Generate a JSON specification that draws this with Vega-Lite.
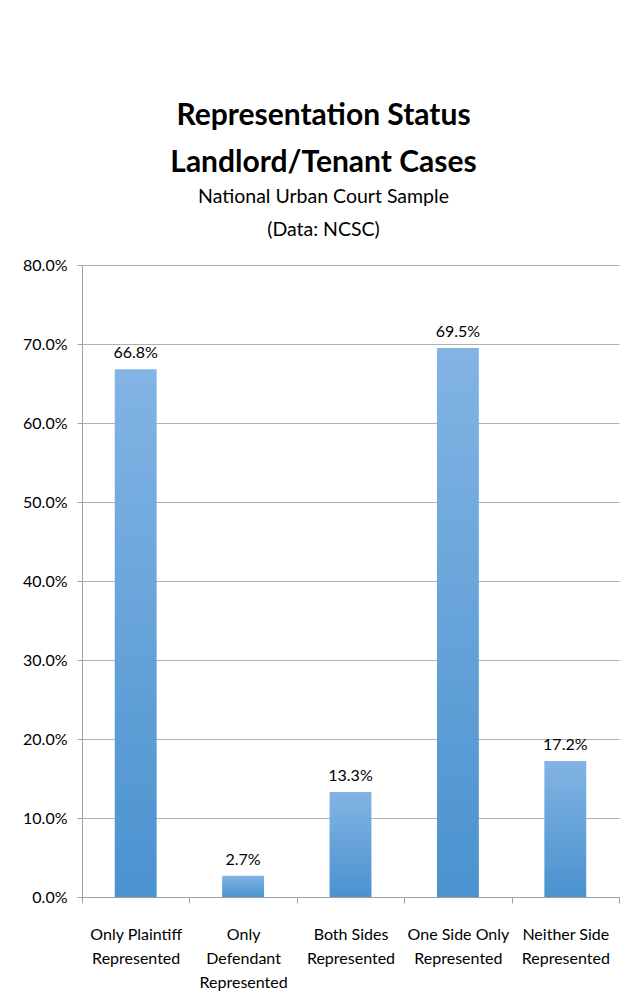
{
  "$schema": "https://vega.github.io/schema/vega-lite/v6.json",
  "autosize": "none",
  "width": 537,
  "height": 632,
  "padding": {"left": 82, "top": 265, "right": 21, "bottom": 100},
  "background": "white",
  "title": {
    "text": ["Representation Status", "Landlord/Tenant Cases"],
    "subtitle": ["National Urban Court Sample", "(Data: NCSC)"],
    "anchor": "middle",
    "dx": -27,
    "offset": 18,
    "font": "Lato",
    "fontSize": 30,
    "fontWeight": "bold",
    "color": "black",
    "lineHeight": 47,
    "subtitleFont": "Lato",
    "subtitleFontSize": 19.5,
    "subtitleColor": "black",
    "subtitleLineHeight": 33,
    "subtitlePadding": 10
  },
  "data": {
    "values": [
      {"category": "Only Plaintiff|Represented", "value": 0.668},
      {"category": "Only|Defendant|Represented", "value": 0.027},
      {"category": "Both Sides|Represented", "value": 0.133},
      {"category": "One Side Only|Represented", "value": 0.695},
      {"category": "Neither Side|Represented", "value": 0.172}
    ]
  },
  "encoding": {
    "x": {
      "field": "category",
      "type": "nominal",
      "sort": null,
      "scale": {"paddingInner": 0, "paddingOuter": 0},
      "axis": {
        "title": null,
        "labelAngle": 0,
        "labelExpr": "split(datum.label, '|')",
        "labelFont": "Lato",
        "labelFontSize": 16,
        "labelColor": "black",
        "labelLineHeight": 24,
        "labelPadding": 23,
        "tickBand": "extent",
        "tickSize": 6,
        "tickColor": "#a0a0a0",
        "domainColor": "#a0a0a0",
        "grid": false
      }
    },
    "y": {
      "field": "value",
      "type": "quantitative",
      "scale": {"domain": [0, 0.8], "nice": false},
      "axis": {
        "title": null,
        "format": ".1%",
        "values": [0, 0.1, 0.2, 0.3, 0.4, 0.5, 0.6, 0.7, 0.8],
        "labelFont": "Lato",
        "labelFontSize": 16,
        "labelColor": "black",
        "labelPadding": 10,
        "labelOverlap": false,
        "tickSize": 5,
        "tickColor": "#a0a0a0",
        "domainColor": "#a0a0a0",
        "grid": true,
        "gridColor": "#b0b0b0",
        "gridWidth": 1.2
      }
    }
  },
  "layer": [
    {
      "mark": {
        "type": "bar",
        "width": {"band": 0.39},
        "color": {
          "gradient": "linear",
          "x1": 0, "y1": 0, "x2": 0, "y2": 1,
          "stops": [
            {"offset": 0, "color": "#82b4e4"},
            {"offset": 1, "color": "#4a92cf"}
          ]
        }
      }
    },
    {
      "mark": {"type": "text", "dy": -16, "font": "Lato", "fontSize": 16, "color": "black"},
      "encoding": {
        "text": {"field": "value", "type": "quantitative", "format": ".1%"}
      }
    }
  ],
  "config": {"view": {"stroke": null}}
}
